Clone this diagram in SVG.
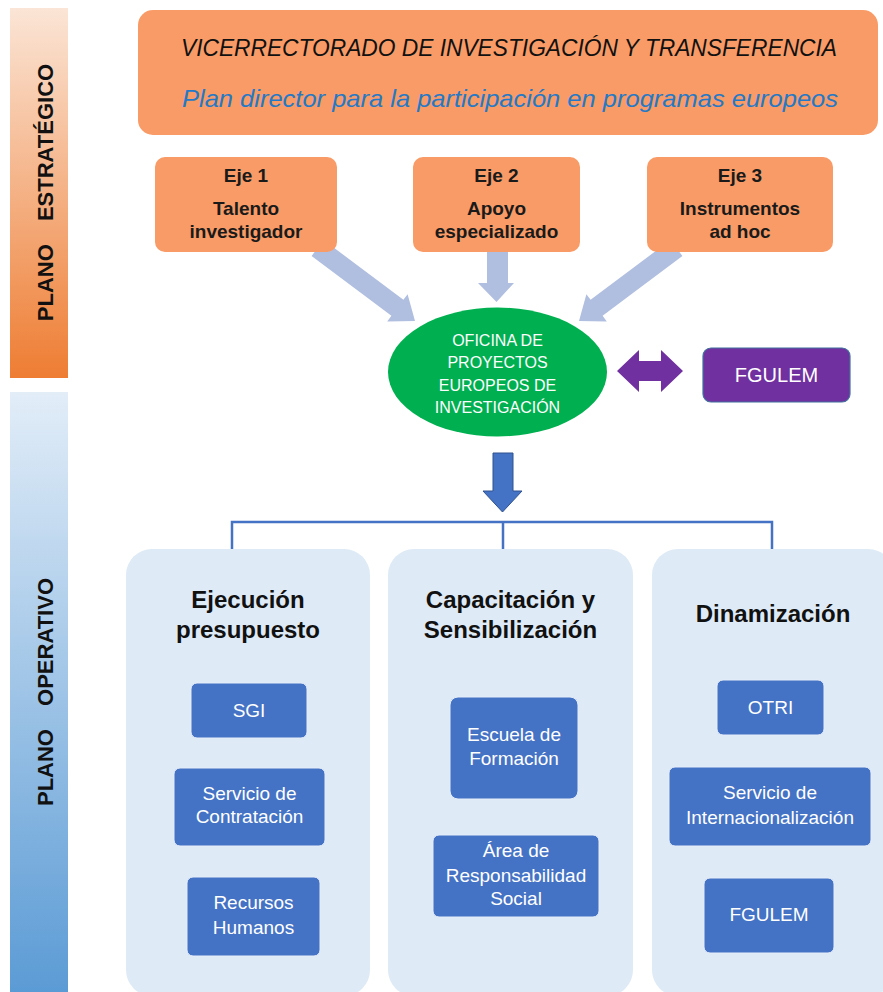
<svg xmlns="http://www.w3.org/2000/svg" width="883" height="992" viewBox="0 0 883 992">
<defs>
  <linearGradient id="gOrange" x1="0" y1="0" x2="0" y2="1">
    <stop offset="0" stop-color="#fbe5d6"/>
    <stop offset="1" stop-color="#ee7d33"/>
  </linearGradient>
  <linearGradient id="gBlue" x1="0" y1="0" x2="0" y2="1">
    <stop offset="0" stop-color="#e2edf8"/>
    <stop offset="1" stop-color="#5b9bd5"/>
  </linearGradient>
  <style>
    text { font-family: "Liberation Sans", Arial, sans-serif; text-anchor: middle; }
    .side { font-size: 22px; font-weight: bold; fill: #111; }
    .eje { fill: #f99b66; }
    .ejet { font-size: 19px; font-weight: bold; fill: #1a1a1a; }
    .feed { fill: #b0bee0; }
    .panel { fill: #deeaf6; }
    .head { font-size: 24px; font-weight: bold; fill: #111; }
    .unit { fill: #4472c4; stroke: #e6eefa; stroke-width: 1; }
    .unitt { font-size: 19px; fill: #ffffff; }
    .wt { fill: #ffffff; }
    .bracket { fill: none; stroke: #4472c4; stroke-width: 2.5; }
  </style>
</defs>

<g id="plano-estrategico">
  <rect x="10" y="8" width="58" height="370" fill="url(#gOrange)"/>
  <text class="side" transform="translate(53,192.5) rotate(-90)">PLANO<tspan dx="17"> ESTRATÉGICO</tspan></text>
</g>
<g id="plano-operativo">
  <rect x="10" y="392" width="58" height="600" fill="url(#gBlue)"/>
  <text class="side" transform="translate(53,692) rotate(-90)">PLANO<tspan dx="17"> OPERATIVO</tspan></text>
</g>

<g id="connectors">
  <polygon class="feed" points="311.6,256 323.6,240 403.4,299.8 407.6,294.2 415,321 387.2,321.4 391.4,315.8"/>
  <polygon class="feed" points="487,248 508,248 508,283 514,283 496.5,302 478,283 487,283"/>
  <polygon class="feed" points="682.4,256 670.4,240 590.6,299.8 586.4,294.2 579,321 606.8,321.4 602.6,315.8"/>
  <polygon fill="#7030a0" points="617,371 639,350 639,361 661,361 661,350 683,371 661,392 661,381 639,381 639,392"/>
  <polygon fill="#4472c4" stroke="#2f528f" stroke-width="1" points="493,453 513,453 513,491 522,491 502.5,512 483,491 493,491"/>
  <path class="bracket" d="M232,549 V522 H772 V549 M503,522 V549"/>
</g>

<g id="vicerrectorado">
  <rect x="138" y="10" width="740" height="125" rx="15" fill="#f99b66"/>
  <text x="509" y="56" font-size="23" font-style="italic" fill="#111" textLength="656" lengthAdjust="spacingAndGlyphs">VICERRECTORADO DE INVESTIGACIÓN Y TRANSFERENCIA</text>
  <text x="510" y="107" font-size="24" font-style="italic" fill="#2479c7" textLength="656" lengthAdjust="spacingAndGlyphs">Plan director para la participación en programas europeos</text>
</g>

<g id="eje1">
  <rect class="eje" x="155" y="157" width="182" height="95" rx="10"/>
  <text class="ejet" x="246" y="182">Eje 1</text>
  <text class="ejet" x="246" y="215">Talento</text>
  <text class="ejet" x="246" y="238">investigador</text>
</g>
<g id="eje2">
  <rect class="eje" x="413" y="157" width="167" height="95" rx="10"/>
  <text class="ejet" x="496.5" y="182">Eje 2</text>
  <text class="ejet" x="496.5" y="215">Apoyo</text>
  <text class="ejet" x="496.5" y="238">especializado</text>
</g>
<g id="eje3">
  <rect class="eje" x="647" y="157" width="186" height="95" rx="10"/>
  <text class="ejet" x="740" y="182">Eje 3</text>
  <text class="ejet" x="740" y="215">Instrumentos</text>
  <text class="ejet" x="740" y="238">ad hoc</text>
</g>

<g id="oficina">
  <ellipse cx="497.5" cy="372" rx="109.5" ry="64.5" fill="#00b050"/>
  <text class="wt" x="497.5" y="346" font-size="16">OFICINA DE</text>
  <text class="wt" x="497.5" y="368" font-size="16">PROYECTOS</text>
  <text class="wt" x="497.5" y="391" font-size="16">EUROPEOS DE</text>
  <text class="wt" x="497.5" y="413" font-size="16">INVESTIGACIÓN</text>
</g>

<g id="fgulem-top">
  <rect x="703" y="348" width="147" height="54" rx="8" fill="#7030a0" stroke="#41719c" stroke-width="1.2"/>
  <text class="wt" x="776.5" y="382" font-size="20">FGULEM</text>
</g>

<g id="ejecucion">
  <rect class="panel" x="126" y="549" width="244" height="447" rx="26"/>
  <text class="head" x="248" y="608">Ejecución</text>
  <text class="head" x="248" y="638">presupuesto</text>
</g>
<g id="sgi">
  <rect class="unit" x="191" y="683" width="116" height="55" rx="6"/>
  <text class="unitt" x="249" y="717">SGI</text>
</g>
<g id="contratacion">
  <rect class="unit" x="174" y="768" width="151" height="78" rx="6"/>
  <text class="unitt" x="249.5" y="800">Servicio de</text>
  <text class="unitt" x="249.5" y="823">Contratación</text>
</g>
<g id="rrhh">
  <rect class="unit" x="187" y="877" width="133" height="79" rx="6"/>
  <text class="unitt" x="253.5" y="909">Recursos</text>
  <text class="unitt" x="253.5" y="934">Humanos</text>
</g>

<g id="capacitacion">
  <rect class="panel" x="388" y="549" width="245" height="447" rx="26"/>
  <text class="head" x="510.5" y="608">Capacitación y</text>
  <text class="head" x="510.5" y="638">Sensibilización</text>
</g>
<g id="escuela">
  <rect class="unit" x="450" y="697" width="128" height="102" rx="8"/>
  <text class="unitt" x="514" y="741">Escuela de</text>
  <text class="unitt" x="514" y="765">Formación</text>
</g>
<g id="area-rs">
  <rect class="unit" x="433" y="835" width="166" height="82" rx="6"/>
  <text class="unitt" x="516" y="857">Área de</text>
  <text class="unitt" x="516" y="882">Responsabilidad</text>
  <text class="unitt" x="516" y="905">Social</text>
</g>

<g id="dinamizacion">
  <rect class="panel" x="652" y="549" width="242" height="447" rx="26"/>
  <text class="head" x="773" y="622">Dinamización</text>
</g>
<g id="otri">
  <rect class="unit" x="717" y="680" width="107" height="55" rx="6"/>
  <text class="unitt" x="770.5" y="714">OTRI</text>
</g>
<g id="internacionalizacion">
  <rect class="unit" x="669" y="767" width="202" height="79" rx="6"/>
  <text class="unitt" x="770" y="799">Servicio de</text>
  <text class="unitt" x="770" y="824">Internacionalización</text>
</g>
<g id="fgulem">
  <rect class="unit" x="704" y="878" width="130" height="75" rx="6"/>
  <text class="unitt" x="769" y="921">FGULEM</text>
</g>
</svg>
